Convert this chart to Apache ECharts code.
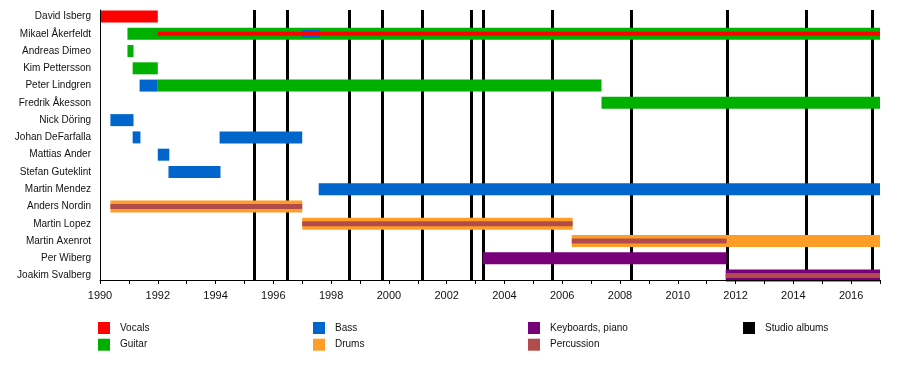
<!DOCTYPE html>
<html>
<head>
<meta charset="utf-8">
<script src="https://cdn.jsdelivr.net/npm/echarts@6/dist/echarts.min.js"></script>
<style>html,body{margin:0;padding:0;background:#fff}#c{width:900px;height:370px}</style>
</head>
<body>
<div id="c"></div>
<script>
// ---- data ----
var members = ['David Isberg','Mikael Åkerfeldt','Andreas Dimeo','Kim Pettersson','Peter Lindgren','Fredrik Åkesson','Nick Döring','Johan DeFarfalla','Mattias Ander','Stefan Guteklint','Martin Mendez','Anders Nordin','Martin Lopez','Martin Axenrot','Per Wiberg','Joakim Svalberg'];
// [memberIndex, start, end]
var vocals = [[0,1990,1992]];
var vocalsSecondary = [[1,1992,2017]];
var guitar = [[1,1990.95,2017],[2,1990.95,1991.16],[3,1991.13,1992],[4,1992,2007.36],[5,2007.36,2017]];
var bass = [[4,1991.37,1992],[6,1990.36,1991.16],[7,1991.13,1991.4],[7,1994.14,1997.0],[8,1992,1992.4],[9,1992.37,1994.17],[10,1997.57,2017]];
var bassSecondary = [[1,1997.0,1997.6]];
var drums = [[11,1990.36,1997.0],[12,1997.0,2006.36],[13,2006.33,2017]];
var keyboards = [[14,2003.25,2011.69],[15,2011.66,2017]];
var percussion = [[11,1990.36,1997.0],[12,1997.0,2006.36],[13,2006.33,2011.69],[15,2011.66,2017]];
var studioAlbums = [1995.35,1996.47,1998.62,1999.76,2001.14,2002.84,2003.25,2005.64,2008.38,2011.70,2014.44,2016.72];
var yearTicks = [1990,1992,1994,1996,1998,2000,2002,2004,2006,2008,2010,2012,2014,2016];

var colors = {
  'Vocals':'#FF0000','Guitar':'#00B000','Bass':'#0066CC','Drums':'#FF9E26',
  'Keyboards, piano':'#780078','Percussion':'#B24C4C','Studio albums':'#000000'
};

function spanSeries(name, data, thickness, z){
  return {
    type:'custom', name:name, coordinateSystem:'cartesian2d', z:z, silent:true,
    itemStyle:{color:colors[name]},
    emphasis:{disabled:true},
    encode:{x:[1,2], y:0},
    data:data,
    renderItem:function(params, api){
      var row = api.value(0), s = api.value(1), e = api.value(2);
      var p1 = api.coord([s,row]), p2 = api.coord([e,row]);
      return {type:'rect', shape:{x:p1[0], y:p1[1]-thickness/2, width:p2[0]-p1[0], height:thickness},
              style:{fill:colors[name], opacity:1}};
    }
  };
}

var font = '"Liberation Sans", Arial, Helvetica, sans-serif';
var chart = echarts.init(document.getElementById('c'), null, {renderer:'canvas'});
function leg(left, names){
  return {orient:'vertical', left:left, top:322, padding:0, itemGap:4.7, itemWidth:12, itemHeight:12,
          icon:'rect', selectedMode:false, data:names,
          textStyle:{fontFamily:font, fontSize:10, color:'#111', padding:[0,0,0,5]}};
}
chart.setOption({
  animation:false,
  backgroundColor:'#fff',
  grid:{left:100, right:20, top:10, bottom:90, containLabel:false},
  xAxis:{type:'value', min:1990, max:2017, interval:1, position:'bottom', z:20,
    axisLine:{show:true, onZero:false, lineStyle:{color:'#000', width:1}},
    axisTick:{show:true, length:4, lineStyle:{color:'#000'}},
    splitLine:{show:false},
    axisLabel:{margin:10, fontFamily:font, fontSize:11, color:'#111',
      formatter:function(v){ return yearTicks.indexOf(v) >= 0 ? String(v) : ''; }}
  },
  yAxis:{type:'value', inverse:true, min:-0.376, max:15.255, z:20,
    axisLine:{show:true, onZero:false, lineStyle:{color:'#000', width:1}},
    axisTick:{show:false}, splitLine:{show:false},
    axisLabel:{margin:9, fontFamily:font, fontSize:10, color:'#111',
      customValues:members.map(function(m,i){return i;}),
      formatter:function(v){ return members[Math.round(v)] || ''; }}
  },
  legend:[
    leg(98,['Vocals','Guitar']),
    leg(313,['Bass','Drums']),
    leg(528,['Keyboards, piano','Percussion']),
    leg(743,['Studio albums'])
  ],
  series:[
    {type:'line', name:'Studio albums', data:[], z:0, itemStyle:{color:'#000'}, lineStyle:{color:'#000'},
     markLine:{silent:true, z:0, symbol:['none','none'], label:{show:false},
       emphasis:{disabled:true},
       lineStyle:{color:'#000', width:3, type:'solid', opacity:1},
       data:studioAlbums.map(function(y){return {xAxis:y};})}},
    spanSeries('Vocals', vocals, 12, 10),
    spanSeries('Guitar', guitar, 12, 10),
    spanSeries('Bass', bass, 12, 10),
    spanSeries('Drums', drums, 12, 10),
    spanSeries('Keyboards, piano', keyboards, 12, 10),
    spanSeries('Bass', bassSecondary, 8, 11),
    spanSeries('Vocals', vocalsSecondary, 4, 12),
    spanSeries('Percussion', percussion, 5, 12)
  ]
});
</script>
</body>
</html>
